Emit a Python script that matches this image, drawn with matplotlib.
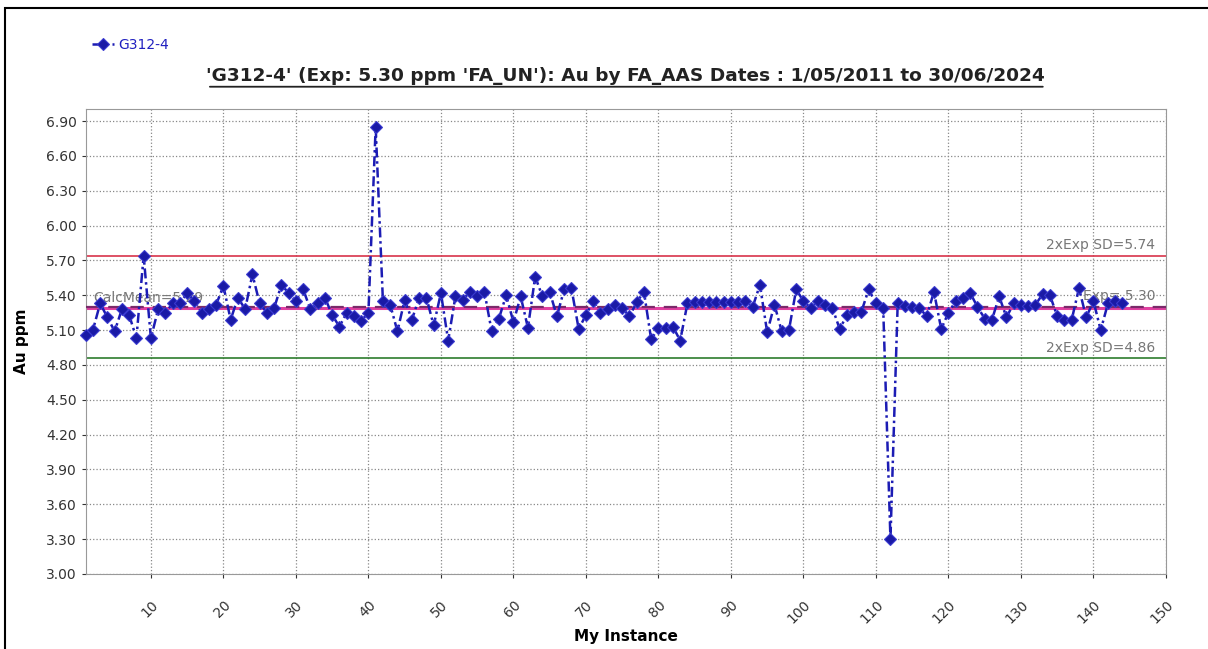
import numpy as np
import matplotlib
matplotlib.use("Agg")
import matplotlib.pyplot as plt
from matplotlib.patches import Rectangle

# data
instance = list(range(1, 145))
au_ppm = [
    5.06, 5.10, 5.33, 5.21, 5.09, 5.28, 5.23, 5.03, 5.74, 5.03,
    5.28, 5.25, 5.33, 5.33, 5.42, 5.35, 5.25, 5.28, 5.32, 5.48,
    5.19, 5.38, 5.28, 5.58, 5.33, 5.25, 5.29, 5.49, 5.42, 5.35,
    5.45, 5.28, 5.33, 5.38, 5.23, 5.13, 5.25, 5.22, 5.18, 5.25,
    6.85, 5.35, 5.32, 5.09, 5.36, 5.19, 5.38, 5.38, 5.14, 5.42,
    5.01, 5.39, 5.36, 5.43, 5.39, 5.43, 5.09, 5.20, 5.40, 5.17,
    5.39, 5.12, 5.56, 5.39, 5.43, 5.22, 5.45, 5.46, 5.11, 5.23,
    5.35, 5.25, 5.28, 5.32, 5.29, 5.22, 5.34, 5.43, 5.02, 5.12,
    5.12, 5.13, 5.01, 5.33, 5.34, 5.34, 5.34, 5.34, 5.34, 5.34,
    5.34, 5.35, 5.30, 5.49, 5.08, 5.32, 5.09, 5.10, 5.45, 5.35,
    5.29, 5.35, 5.32, 5.29, 5.11, 5.23, 5.26, 5.26, 5.45, 5.33,
    5.29, 3.30, 5.33, 5.31, 5.30, 5.29, 5.22, 5.43, 5.11, 5.25,
    5.35, 5.38, 5.42, 5.30, 5.20, 5.19, 5.39, 5.21, 5.33, 5.32,
    5.31, 5.32, 5.41, 5.40, 5.22, 5.19, 5.19, 5.46, 5.21, 5.35,
    5.10, 5.33, 5.35, 5.33,
]

series_name = "G312-4"
exp_value = 5.30
calc_mean = 5.29
upper_sd = 5.74
lower_sd = 4.86

y_ticks = [3.00, 3.30, 3.60, 3.90, 4.20, 4.50, 4.80, 5.10, 5.40, 5.70,
           6.00, 6.30, 6.60, 6.90]
x_ticks = [10, 20, 30, 40, 50, 60, 70, 80, 90, 100, 110, 120, 130, 140, 150]

title = ("'G312-4' (Exp: 5.30 ppm 'FA_UN'): Au by FA_AAS "
         "Dates : 1/05/2011 to 30/06/2024")

plt.rcParams["font.family"] = ["DejaVu Sans"]

fig = plt.figure(figsize=(12.08, 6.49), dpi=100)
ax = fig.add_axes([0.0709, 0.1156, 0.8943, 0.7157])

# frame around the whole picture
fig.patches.append(Rectangle((0.004, -0.01), 1.2, 0.998, transform=fig.transFigure,
                             fill=False, edgecolor="black", linewidth=1.5))

# reference lines
ax.axhline(upper_sd, color="#d8334a", linewidth=1.2, zorder=2)
ax.axhline(lower_sd, color="#2e7d2e", linewidth=1.2, zorder=2)
ax.axhline(calc_mean, color="#e040a0", linewidth=2.2, zorder=2)
ax.axhline(exp_value, color="#7a2a6a", linewidth=1.6, linestyle=(0, (6, 4)), zorder=3)

ax.plot(instance, au_ppm, color="#1c1cb4", linewidth=1.8, linestyle=(0, (4, 1.5, 1, 1.5)),
        marker="D", markersize=6.5, markerfacecolor="#1a1aa6",
        markeredgecolor="#3a3ad0", markeredgewidth=0.8, zorder=4, label=series_name,
        clip_on=False)

ax.set_xlim(1, 150)
ax.set_ylim(3.0, 7.0)
ax.set_xticks(x_ticks)
ax.set_yticks(y_ticks)
ax.set_yticklabels([f"{v:.2f}" for v in y_ticks])
ax.set_xticklabels([str(v) for v in x_ticks], rotation=45, ha="right",
                   rotation_mode="anchor")
ax.tick_params(axis="both", labelsize=10, colors="#333333", length=3)
ax.tick_params(axis="x", pad=14)
ax.grid(True, linestyle=":", color="#888888", linewidth=0.9)
for side in ax.spines.values():
    side.set_color("#999999")

ax.set_xlabel("My Instance", fontsize=11, fontweight="bold", labelpad=2)
ax.set_ylabel("Au ppm", fontsize=11, fontweight="bold", labelpad=12)

ax.text(0.5, 1.072, title, transform=ax.transAxes, ha="center", va="center",
        fontsize=13.3, fontweight="bold", color="#222222")
# underline for the title
ax.annotate("", xy=(0.115, 1.049), xytext=(0.886, 1.049), xycoords="axes fraction",
            arrowprops=dict(arrowstyle="-", color="#222222", linewidth=1.3,
                            shrinkA=0, shrinkB=0))

# line labels
ax.text(148.5, upper_sd + 0.03, f"2xExp SD={upper_sd:.2f}", ha="right", va="bottom",
        fontsize=10, color="#777777", zorder=5)
ax.text(148.5, lower_sd + 0.03, f"2xExp SD={lower_sd:.2f}", ha="right", va="bottom",
        fontsize=10, color="#777777", zorder=5)
ax.text(148.5, exp_value + 0.03, f"Exp= {exp_value:.2f}", ha="right", va="bottom",
        fontsize=10, color="#777777", zorder=3)
ax.text(2.0, calc_mean + 0.03, f"CalcMean={calc_mean:.2f}", ha="left", va="bottom",
        fontsize=10, color="#777777", zorder=3)

leg = fig.legend(loc="center left", bbox_to_anchor=(92 / 1208, 1 - 45 / 649),
                 frameon=False, fontsize=10, handlelength=1.6, handletextpad=0.3,
                 borderaxespad=0, borderpad=0)
for t in leg.get_texts():
    t.set_color("#2020c0")

fig.savefig("out.png", dpi=100)
